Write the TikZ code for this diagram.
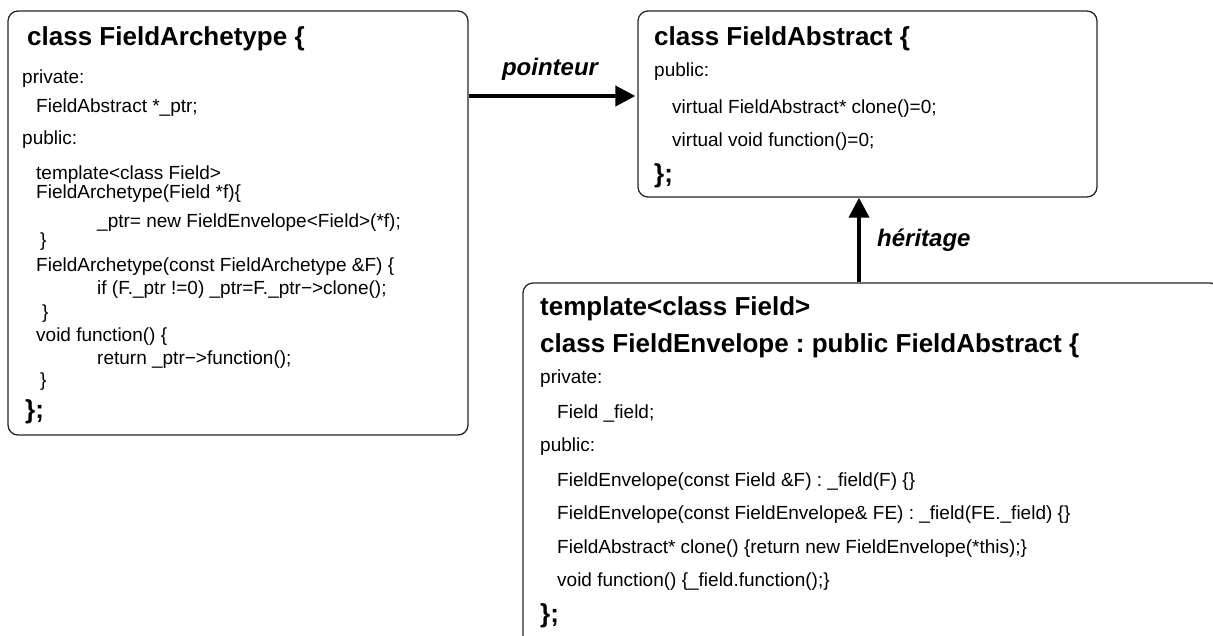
\documentclass[tikz,border=0pt]{standalone}
\usepackage{fontspec}
\setmainfont{Liberation Sans}
\usetikzlibrary{arrows.meta}
\frenchspacing
\newcommand{\codefont}{\fontsize{19}{22}\selectfont\frenchspacing}
\newcommand{\titlefont}{\fontsize{26}{30}\selectfont\bfseries\frenchspacing}
\newcommand{\labfont}{\fontsize{24}{28}\selectfont\bfseries\itshape}
\tikzset{
  classbox/.style={draw=black!85, line width=1.3pt, rounded corners=10pt, inner sep=0pt},
  code/.style={anchor=base west, inner sep=0pt, font=\codefont},
  ttl/.style={anchor=base west, inner sep=0pt, font=\titlefont},
  lab/.style={inner sep=0pt, font=\labfont},
  arr/.style={line width=4pt, -{Triangle[width=20pt,length=20pt]}}
}
\begin{document}
\begin{tikzpicture}[x=1pt,y=-1pt]
\useasboundingbox (0,0) rectangle (1213,635);
\clip (0,0) rectangle (1213,635);
% boxes
\node[classbox, minimum width=460pt, minimum height=424pt] (box1) at (238,223) {};
\node[classbox, minimum width=459pt, minimum height=186pt] (box2) at (867.5,104) {};
\node[classbox, minimum width=697pt, minimum height=377pt] (box3) at (871.5,471.5) {};
% box 1
\node[ttl]  (a0)  at (27,45)  {class FieldArchetype \{};
\node[code] (a1)  at (22,83)  {private:};
\node[code] (a2)  at (36,112) {FieldAbstract *\_ptr;};
\node[code] (a3)  at (22,144) {public:};
\node[code] (a4)  at (36,179) {template<class Field>};
\node[code] (a5)  at (36,198) {FieldArchetype(Field *f)\{};
\node[code] (a6)  at (97,227) {\_ptr= new FieldEnvelope<Field>(*f);};
\node[code] (a7)  at (40,246) {\}};
\node[code] (a8)  at (36,271) {FieldArchetype(const FieldArchetype \&F) \{};
\node[code] (a9)  at (97,294) {if (F.\_ptr !=0) \_ptr=F.\_ptr−>clone();};
\node[code] (a10) at (42,318) {\}};
\node[code] (a11) at (36,341) {void function() \{};
\node[code] (a12) at (97,364) {return \_ptr−>function();};
\node[code] (a13) at (40,386) {\}};
\node[ttl]  (a14) at (25,418) {\};};
% box 2
\node[ttl]  (b0) at (654,45)  {class FieldAbstract \{};
\node[code] (b1) at (654,76)  {public:};
\node[code] (b2) at (672,113) {virtual FieldAbstract* clone()=0;};
\node[code] (b3) at (672,146) {virtual void function()=0;};
\node[ttl]  (b4) at (654,182) {\};};
% box 3
\node[ttl]  (c0) at (540,315) {template<class Field>};
\node[ttl]  (c1) at (540,352) {class FieldEnvelope : public FieldAbstract \{};
\node[code] (c2) at (540,383) {private:};
\node[code] (c3) at (557,418) {Field \_field;};
\node[code] (c4) at (540,451) {public:};
\node[code] (c5) at (557,486) {FieldEnvelope(const Field \&F) : \_field(F) \{\}};
\node[code] (c6) at (557,519) {FieldEnvelope(const FieldEnvelope\& FE) : \_field(FE.\_field) \{\}};
\node[code] (c7) at (557,553) {FieldAbstract* clone() \{return new FieldEnvelope(*this);\}};
\node[code] (c8) at (557,586) {void function() \{\_field.function();\}};
\node[ttl]  (c9) at (540,622) {\};};
% connectors
\coordinate (py) at (0,96);
\coordinate (hx) at (859,0);
\draw[arr, shorten >=2pt] (box1.east |- py) -- (box2.west |- py);
\draw[arr] (box3.north -| hx) -- (box2.south -| hx);
\node[lab, anchor=base] (lp) at (550,75) {pointeur};
\node[lab, anchor=base west] (lh) at (877,246) {héritage};
\end{tikzpicture}
\end{document}
